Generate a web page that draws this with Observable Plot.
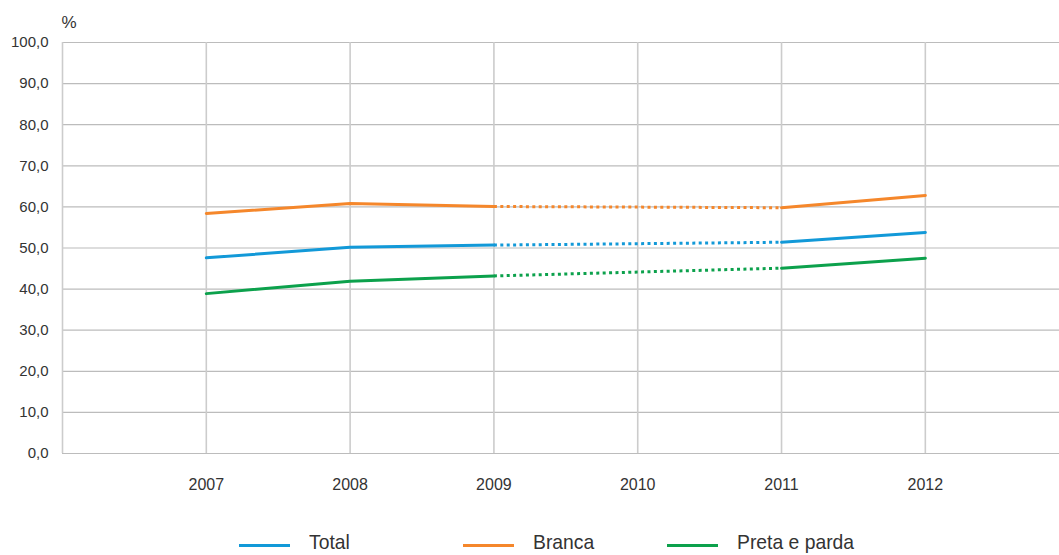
<!DOCTYPE html>
<html>
<head>
<meta charset="utf-8">
<script src="https://cdn.jsdelivr.net/npm/d3@7"></script>
<script src="https://cdn.jsdelivr.net/npm/@observablehq/plot@0.6"></script>
<style>
  html, body { margin: 0; padding: 0; background: #fff; }
  #wrap { position: relative; width: 1059px; height: 555px; overflow: hidden; }
  #legend { position: absolute; left: 0; top: 0; width: 1059px; height: 555px;
    font-family: "Liberation Sans", Arial, sans-serif; font-size: 21px; color: #333; }
  .swatch { position: absolute; top: 544px; width: 51px; height: 3px; }
  .label { position: absolute; top: 531px; line-height: 21px; white-space: nowrap;
    transform: scaleX(0.92); transform-origin: left center; }
</style>
</head>
<body>
<div id="wrap">
  <div id="chart"></div>
  <div id="legend"></div>
</div>
<script>
const years = [2007, 2008, 2009, 2010, 2011, 2012];
const total = [47.6, 50.2, 50.7, null, 51.4, 53.8];
const branca = [58.4, 60.8, 60.1, null, 59.8, 62.8];
const preta = [38.9, 41.9, 43.2, null, 45.1, 47.5];
const seriesNames = ["Total", "Branca", "Preta e parda"];
const seriesColors = ["#1299d8", "#f5872b", "#0ca14c"];
const yTicks = [0, 10, 20, 30, 40, 50, 60, 70, 80, 90, 100];
const xGrid = [2006, 2007, 2008, 2009, 2010, 2011, 2012];
const bridgeYears = [2009, 2011];

const seriesValues = [total, branca, preta];
const rows = [];
seriesNames.forEach((s, i) => years.forEach((yr, j) => rows.push({series: s, year: yr, value: seriesValues[i][j]})));
const bridge = rows.filter(d => bridgeYears.includes(d.year));

const fmt = v => v.toFixed(1).replace(".", ",");

const plot = Plot.plot({
  width: 1059,
  height: 500,
  marginLeft: 62,
  marginRight: 0,
  marginTop: 42,
  marginBottom: 47,
  style: {fontFamily: "'Liberation Sans', Arial, sans-serif", color: "#333", background: "#fff"},
  x: {domain: [2006, 2012.933], label: null},
  y: {domain: [0, 100], label: null},
  color: {domain: seriesNames, range: seriesColors},
  marks: [
    Plot.gridY(yTicks, {stroke: "#bcbcbc", strokeOpacity: 1, strokeWidth: 1.2}),
    Plot.gridX(xGrid, {stroke: "#cccccc", strokeOpacity: 1, strokeWidth: 1.6}),
    Plot.axisY({ticks: yTicks, tickFormat: fmt, tickSize: 0, tickPadding: 14, fontSize: 15, fill: "#333", label: null}),
    Plot.axisX({ticks: years, tickFormat: d => String(d), tickSize: 0, tickPadding: 25, fontSize: 16, fill: "#333", label: null}),
    Plot.text(["%"], {x: 2006, y: 100, dx: -1, dy: -15, text: d => d, textAnchor: "start", lineAnchor: "bottom",
      fontSize: 17, fill: "#333"}),
    Plot.line(bridge, {x: "year", y: "value", z: "series", stroke: "series", strokeWidth: 3,
      strokeDasharray: "3,3.4", strokeLinecap: "butt"}),
    Plot.line(rows, {x: "year", y: "value", z: "series", stroke: "series", strokeWidth: 3})
  ]
});
document.getElementById("chart").appendChild(plot);

const legend = document.getElementById("legend");
const swatchX = [239, 463, 667];
const labelX = [309, 533, 737];
seriesNames.forEach((s, i) => {
  const sw = document.createElement("span");
  sw.className = "swatch";
  sw.style.left = swatchX[i] + "px";
  sw.style.background = seriesColors[i];
  legend.appendChild(sw);
  const lb = document.createElement("span");
  lb.className = "label";
  lb.style.left = labelX[i] + "px";
  lb.textContent = s;
  legend.appendChild(lb);
});
</script>
</body>
</html>
